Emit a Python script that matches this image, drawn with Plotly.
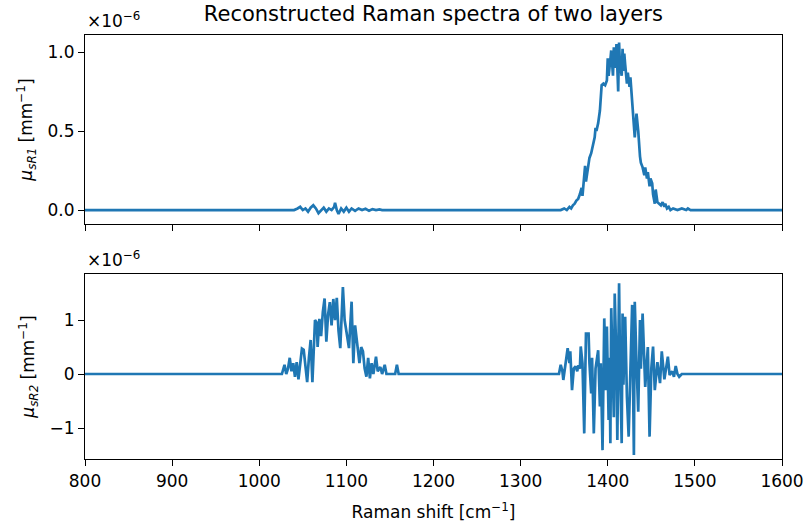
import plotly.graph_objects as go

# ---- data (Raman shift in cm^-1, mu values in units of 1e-6 mm^-1) ----
shift_top = [800, 1040, 1044, 1047, 1050, 1053, 1056, 1059, 1062, 1065, 1068, 1071, 1074, 1077,
             1080, 1083, 1086, 1087, 1089, 1091, 1094, 1097, 1100, 1103, 1106, 1110, 1114, 1118,
             1122, 1126, 1130, 1134, 1138, 1141,
             1340, 1346, 1350, 1353, 1356, 1358, 1360, 1362, 1364, 1366, 1368, 1370, 1371, 1373,
             1374, 1375, 1377, 1379, 1381, 1383, 1385, 1386, 1387, 1389, 1391, 1393, 1395, 1397,
             1399, 1400, 1401, 1403, 1404, 1406, 1407, 1409, 1410, 1411, 1412, 1413, 1414, 1416,
             1417, 1418, 1419, 1420, 1422, 1423, 1425, 1426, 1427, 1429, 1431, 1433, 1435, 1437,
             1438, 1440, 1442, 1443, 1445, 1446, 1448, 1449, 1451, 1452, 1454, 1455, 1457, 1459,
             1461, 1463, 1465, 1466, 1468, 1470, 1472, 1475, 1480, 1485, 1490, 1492, 1495, 1600]
mu_sr1 = [0, 0, 0.01, 0.02, 0.0, 0.01, -0.01, 0.015, 0.03, 0.01, -0.02, 0.0, 0.015, -0.01,
          0.01, 0.0, 0.02, 0.046, 0.0, -0.025, 0.01, -0.01, 0.015, -0.01, 0.01, -0.005, 0.01, 0.0,
          0.008, -0.005, 0.006, 0.0, 0.004, 0,
          0, 0.0, 0.01, 0.0, 0.02, 0.01, 0.03, 0.04, 0.06, 0.07, 0.1, 0.14, 0.09, 0.25,
          0.28, 0.18, 0.26, 0.33, 0.36, 0.42, 0.46, 0.52, 0.5, 0.55, 0.63, 0.79, 0.8, 0.79,
          0.82, 0.96, 0.85, 0.95, 1.01, 0.85, 1.03, 0.9, 1.05, 0.9, 0.75, 1.06, 0.92, 0.85,
          1.02, 0.88, 0.99, 0.92, 0.8, 0.87, 0.78, 0.84, 0.76, 0.66, 0.46, 0.61, 0.5, 0.34,
          0.3, 0.27, 0.22, 0.27, 0.2, 0.24, 0.15, 0.2, 0.17, 0.1, 0.04, 0.13, 0.05, 0.04,
          0.03, 0.05, 0.02, 0.04, 0.01, 0.02, 0.0, 0.01, 0.0, 0.01, 0.0, 0.01, 0, 0]

shift_bot = [800, 1026, 1029, 1031, 1033, 1035, 1037, 1039, 1041, 1043, 1045, 1047, 1049, 1051,
             1053, 1055, 1057, 1059, 1061, 1063, 1064, 1066, 1067, 1069, 1071, 1073, 1075, 1077,
             1079, 1081, 1083, 1085, 1087, 1089, 1091, 1093, 1096, 1098, 1100, 1103, 1106, 1108,
             1110, 1112, 1115, 1117, 1119, 1121, 1123, 1125, 1127, 1129, 1131, 1134, 1136, 1139,
             1141, 1144, 1146, 1156, 1158, 1160,
             1340, 1344, 1346, 1348, 1349, 1351, 1354, 1356, 1357, 1359, 1361, 1363, 1365, 1366,
             1368, 1369, 1371, 1373, 1375, 1378, 1379, 1381, 1382, 1384, 1386, 1389, 1391, 1392,
             1394, 1396, 1398, 1399, 1401, 1402, 1403, 1404, 1406, 1407, 1408, 1410, 1411, 1413,
             1414, 1416, 1417, 1418, 1420, 1422, 1424, 1426, 1428, 1430, 1431, 1433, 1435, 1437,
             1438, 1440, 1442, 1443, 1446, 1448, 1450, 1452, 1454, 1457, 1460, 1462, 1465, 1467,
             1469, 1471, 1474, 1476, 1478, 1480, 1482, 1485, 1600]
mu_sr2 = [0, 0, 0.17, 0.0, 0.1, 0.3, 0.05, 0.2, -0.05, 0.22, -0.1, 0.25, 0.47, 0.45,
          0.1, -0.15, 0.3, 0.63, -0.15, 0.7, 1.0, 0.95, 0.5, 1.02, 0.7, 1.15, 1.4, 0.6,
          1.1, 1.33, 0.9, 1.39, 1.0, 1.41, 0.8, 0.48, 1.61, 1.0, 0.8, 0.48, 1.34, 0.2,
          0.9, 0.63, 0.2, 0.5, 0.42, 0.1, -0.05, 0.3, -0.08, 0.2, 0.0, 0.32, 0.05, 0.13,
          0.0, 0.17, 0.0, 0.0, 0.17, 0.0,
          0, 0, 0.17, 0.05, -0.11, 0.1, 0.48, 0.2, 0.42, -0.3, 0.1, 0.14, 0.05, 0.16,
          0.1, 0.51, 0.2, -1.1, 0.75, 0.75, 0.2, -0.36, 0.3, -1.1, 0.1, 0.44, -0.6, 0.2,
          -1.41, 1.03, -0.3, 0.88, -0.85, 0.3, -1.28, 1.22, 0.1, -0.8, 1.49, 0.2, -1.22, 1.68,
          0.3, -1.28, 1.12, -0.2, 1.06, -0.42, -1.16, 0.3, 1.28, -1.5, 1.34, 0.2, -0.7, 1.0,
          0.1, 1.12, 0.0, -0.24, 0.5, -1.16, 0.1, 0.51, -0.3, 0.22, -0.17, 0.42, -0.1, 0.1,
          0.32, -0.02, 0.05, -0.05, 0.15, 0.0, -0.05, 0.0, 0]

x_ticks = [800, 900, 1000, 1100, 1200, 1300, 1400, 1500, 1600]
y1_ticks = [0.0, 0.5, 1.0]
y1_labels = ["0.0", "0.5", "1.0"]
y2_ticks = [-1, 0, 1]
y2_labels = ["\u22121", "0", "1"]

BLUE = "#1f77b4"
FONT = "DejaVu Sans"

fig = go.Figure()
fig.add_trace(go.Scatter(x=shift_top, y=mu_sr1, mode="lines",
                         line=dict(color=BLUE, width=2.7), xaxis="x", yaxis="y",
                         showlegend=False))
fig.add_trace(go.Scatter(x=shift_bot, y=mu_sr2, mode="lines",
                         line=dict(color=BLUE, width=2.7), xaxis="x2", yaxis="y2",
                         showlegend=False))

axis_common = dict(showline=True, linecolor="black", linewidth=1.2, mirror=True,
                   ticks="outside", ticklen=6, tickwidth=1.2, tickcolor="black",
                   showgrid=False, zeroline=False, automargin=False,
                   tickfont=dict(family=FONT, size=17, color="black"))

fig.update_layout(
    width=807, height=529,
    margin=dict(l=85, r=25, t=35, b=70),
    paper_bgcolor="white", plot_bgcolor="white",
    font=dict(family=FONT, size=17, color="black"),
    title=dict(text="Reconstructed Raman spectra of two layers", x=0.537, xanchor="center",
               y=0.974, yanchor="middle", font=dict(family=FONT, size=21, color="black")),
    xaxis=dict(domain=[0, 1], anchor="y", range=[800, 1600], tickvals=x_ticks,
               showticklabels=False, matches="x2", **axis_common),
    xaxis2=dict(domain=[0, 1], anchor="y2", range=[800, 1600], tickvals=x_ticks,
                title=dict(text="Raman shift [cm<sup>\u22121</sup>]", standoff=16,
                           font=dict(family=FONT, size=17)),
                **axis_common),
    yaxis=dict(domain=[0.554, 1], anchor="x", range=[-0.089, 1.108],
               tickvals=y1_ticks, ticktext=y1_labels,
               title=dict(text="<i>\u03bc</i><sub><i>sR1</i></sub> [mm<sup>\u22121</sup>]",
                          standoff=10, font=dict(family=FONT, size=17)),
               **axis_common),
    yaxis2=dict(domain=[0, 0.436], anchor="x2", range=[-1.574, 1.85],
                tickvals=y2_ticks, ticktext=y2_labels,
                title=dict(text="<i>\u03bc</i><sub><i>sR2</i></sub> [mm<sup>\u22121</sup>]",
                           standoff=10, font=dict(family=FONT, size=17)),
                **axis_common),
    annotations=[
        dict(text="\u00d710<sup>\u22126</sup>", xref="paper", yref="paper", x=0, y=1,
             xanchor="left", yanchor="bottom", showarrow=False, yshift=2,
             font=dict(family=FONT, size=17, color="black")),
        dict(text="\u00d710<sup>\u22126</sup>", xref="paper", yref="paper", x=0, y=0.436,
             xanchor="left", yanchor="bottom", showarrow=False, yshift=2,
             font=dict(family=FONT, size=17, color="black")),
    ],
)

fig.write_html("out.html")
